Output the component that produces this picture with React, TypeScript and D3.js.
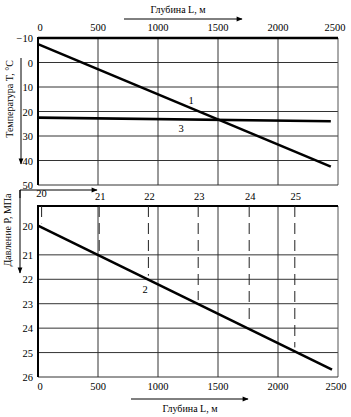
import React from "react";
import * as d3 from "d3";

// depth axis (shared by both panels)
const depthTicks = [0, 500, 1000, 1500, 2000, 2500];
// upper panel: temperature
const tempTicks = [-10, 0, 10, 20, 30, 40, 50];
const line1Depth = [0, 2440];
const line1Temp = [-7.5, 42.5];
const line3Depth = [0, 2440];
const line3Temp = [22.5, 24];
// lower panel: pressure
const pressureTicks = [20, 21, 22, 23, 24, 25, 26];
const line2Depth = [0, 2450];
const line2Pressure = [19.8, 25.7];
const markPressure = [20, 21, 22, 23, 24, 25];
const markDepth = [30, 510, 920, 1335, 1760, 2140];

const FONT = "Liberation Serif, Times New Roman, serif";

const W = 351;
const H = 417;

const Arrow = ({ x1, y1, x2, y2 }: { x1: number; y1: number; x2: number; y2: number }) => (
  <line x1={x1} y1={y1} x2={x2} y2={y2} stroke="#000" strokeWidth={1} markerEnd="url(#arr)" />
);

export default function App() {
  const x = d3.scaleLinear().domain([0, 2500]).range([38, 338]);
  const yT = d3.scaleLinear().domain([-10, 50]).range([38, 185]);
  const yP = d3.scaleLinear().domain([19, 26]).range([206, 377]);

  const line = d3.line<[number, number]>();

  const path1 = line(line1Depth.map((d, i) => [x(d), yT(line1Temp[i])]));
  const path3 = line(line3Depth.map((d, i) => [x(d), yT(line3Temp[i])]));
  const path2 = line(line2Depth.map((d, i) => [x(d), yP(line2Pressure[i])]));

  // pressure along line 2 at a given depth
  const pAt = d3.scaleLinear().domain(line2Depth).range(line2Pressure);

  const grid = "#333";

  return (
    <svg
      width={W}
      height={H}
      style={{ position: "absolute", left: 0, top: 0, background: "#fff", fontFamily: FONT }}
    >
      <defs>
        <marker id="arr" viewBox="0 0 10 10" refX="9" refY="5" markerWidth="7" markerHeight="6" orient="auto">
          <path d="M0,1 L10,5 L0,9 z" fill="#000" />
        </marker>
      </defs>

      {/* ---------- upper panel ---------- */}
      <text x={178} y={13} fontSize={10} textAnchor="middle">Глубина L, м</text>
      <Arrow x1={124} y1={19} x2={242} y2={19} />

      {depthTicks.map((d) => (
        <text key={"tt" + d} x={x(d) + (d === 0 ? 2 : d === 2500 ? -3 : 0)} y={31} fontSize={10.5} textAnchor="middle">
          {d}
        </text>
      ))}

      {tempTicks.slice(1, -1).map((t) => (
        <line key={"gt" + t} x1={x(0)} x2={x(2500)} y1={yT(t)} y2={yT(t)} stroke={grid} strokeWidth={1} />
      ))}
      {depthTicks.slice(1, -1).map((d) => (
        <line key={"gv" + d} x1={x(d)} x2={x(d)} y1={yT(-10)} y2={yT(50)} stroke={grid} strokeWidth={1} />
      ))}
      <line x1={x(2500)} x2={x(2500)} y1={yT(-10)} y2={yT(50)} stroke="#555" strokeWidth={1} />
      <line x1={x(0)} x2={x(2500)} y1={yT(50)} y2={yT(50)} stroke={grid} strokeWidth={1} />
      <line x1={x(0)} x2={x(2500)} y1={yT(-10)} y2={yT(-10)} stroke="#000" strokeWidth={2.5} />
      <line x1={x(0)} x2={x(0)} y1={yT(-10) - 1} y2={yT(50)} stroke="#000" strokeWidth={2} />

      {tempTicks.map((t) => (
        <text key={"yt" + t} x={33} y={yT(t) + 4} fontSize={10.5} textAnchor="end">
          {t < 0 ? "\u2212" + Math.abs(t) : t}
        </text>
      ))}

      <text transform={`translate(13,${99}) rotate(-90)`} fontSize={10} textAnchor="middle">
        Температура T, °C
      </text>
      <Arrow x1={21} y1={58} x2={21} y2={164} />

      <path d={path3 ?? ""} fill="none" stroke="#000" strokeWidth={2.6} />
      <path d={path1 ?? ""} fill="none" stroke="#000" strokeWidth={2.6} />
      <text x={191} y={104} fontSize={10.5} textAnchor="middle">1</text>
      <text x={181} y={132} fontSize={10.5} textAnchor="middle">3</text>

      {/* ---------- lower panel ---------- */}
      <line x1={20} y1={190} x2={20} y2={198} stroke="#000" strokeWidth={1} />
      <Arrow x1={20} y1={190} x2={97} y2={190} />

      {markPressure.map((p, i) => (
        <text key={"mp" + p} x={x(markDepth[i]) + (i === 0 ? 0 : 1)} y={i === 0 ? 197 : 200} fontSize={10.5} textAnchor="middle">
          {p}
        </text>
      ))}

      {pressureTicks.slice(1, -1).map((p) => (
        <line key={"gp" + p} x1={x(0)} x2={x(2500)} y1={yP(p)} y2={yP(p)} stroke={grid} strokeWidth={1} />
      ))}
      {depthTicks.slice(1, -1).map((d) => (
        <line key={"gpv" + d} x1={x(d)} x2={x(d)} y1={yP(19)} y2={yP(26)} stroke={grid} strokeWidth={1} />
      ))}
      <line x1={x(2500)} x2={x(2500)} y1={yP(19)} y2={yP(26)} stroke="#555" strokeWidth={1} />
      <line x1={x(0)} x2={x(2500)} y1={yP(26)} y2={yP(26)} stroke={grid} strokeWidth={1} />
      <line x1={x(0)} x2={x(2500)} y1={yP(19)} y2={yP(19)} stroke="#000" strokeWidth={2} />
      <line x1={x(0)} x2={x(0)} y1={yP(19) - 1} y2={yP(26)} stroke="#000" strokeWidth={2} />

      {markDepth.map((d, i) => (
        <line
          key={"md" + i}
          x1={x(d)}
          x2={x(d)}
          y1={yP(19)}
          y2={yP(pAt(d)) - 4}
          stroke="#222"
          strokeWidth={1}
          strokeDasharray="11,6"
        />
      ))}

      {pressureTicks.map((p) => (
        <text key={"yp" + p} x={33} y={yP(p) + (p === 20 ? 0 : 4)} fontSize={10.5} textAnchor="end">
          {p}
        </text>
      ))}

      <text transform={`translate(11,${230}) rotate(-90)`} fontSize={10} textAnchor="middle">
        Давление P, МПа
      </text>
      <Arrow x1={20} y1={190} x2={20} y2={273} />

      <path d={path2 ?? ""} fill="none" stroke="#000" strokeWidth={2.6} />
      <text x={145} y={293} fontSize={10.5} textAnchor="middle">2</text>

      {depthTicks.map((d) => (
        <text key={"bt" + d} x={x(d) + (d === 0 ? 2 : d === 2500 ? -2 : 0)} y={390} fontSize={10.5} textAnchor="middle">
          {d}
        </text>
      ))}
      <Arrow x1={131} y1={399} x2={248} y2={399} />
      <text x={190} y={412} fontSize={10} textAnchor="middle">Глубина L, м</text>
    </svg>
  );
}
